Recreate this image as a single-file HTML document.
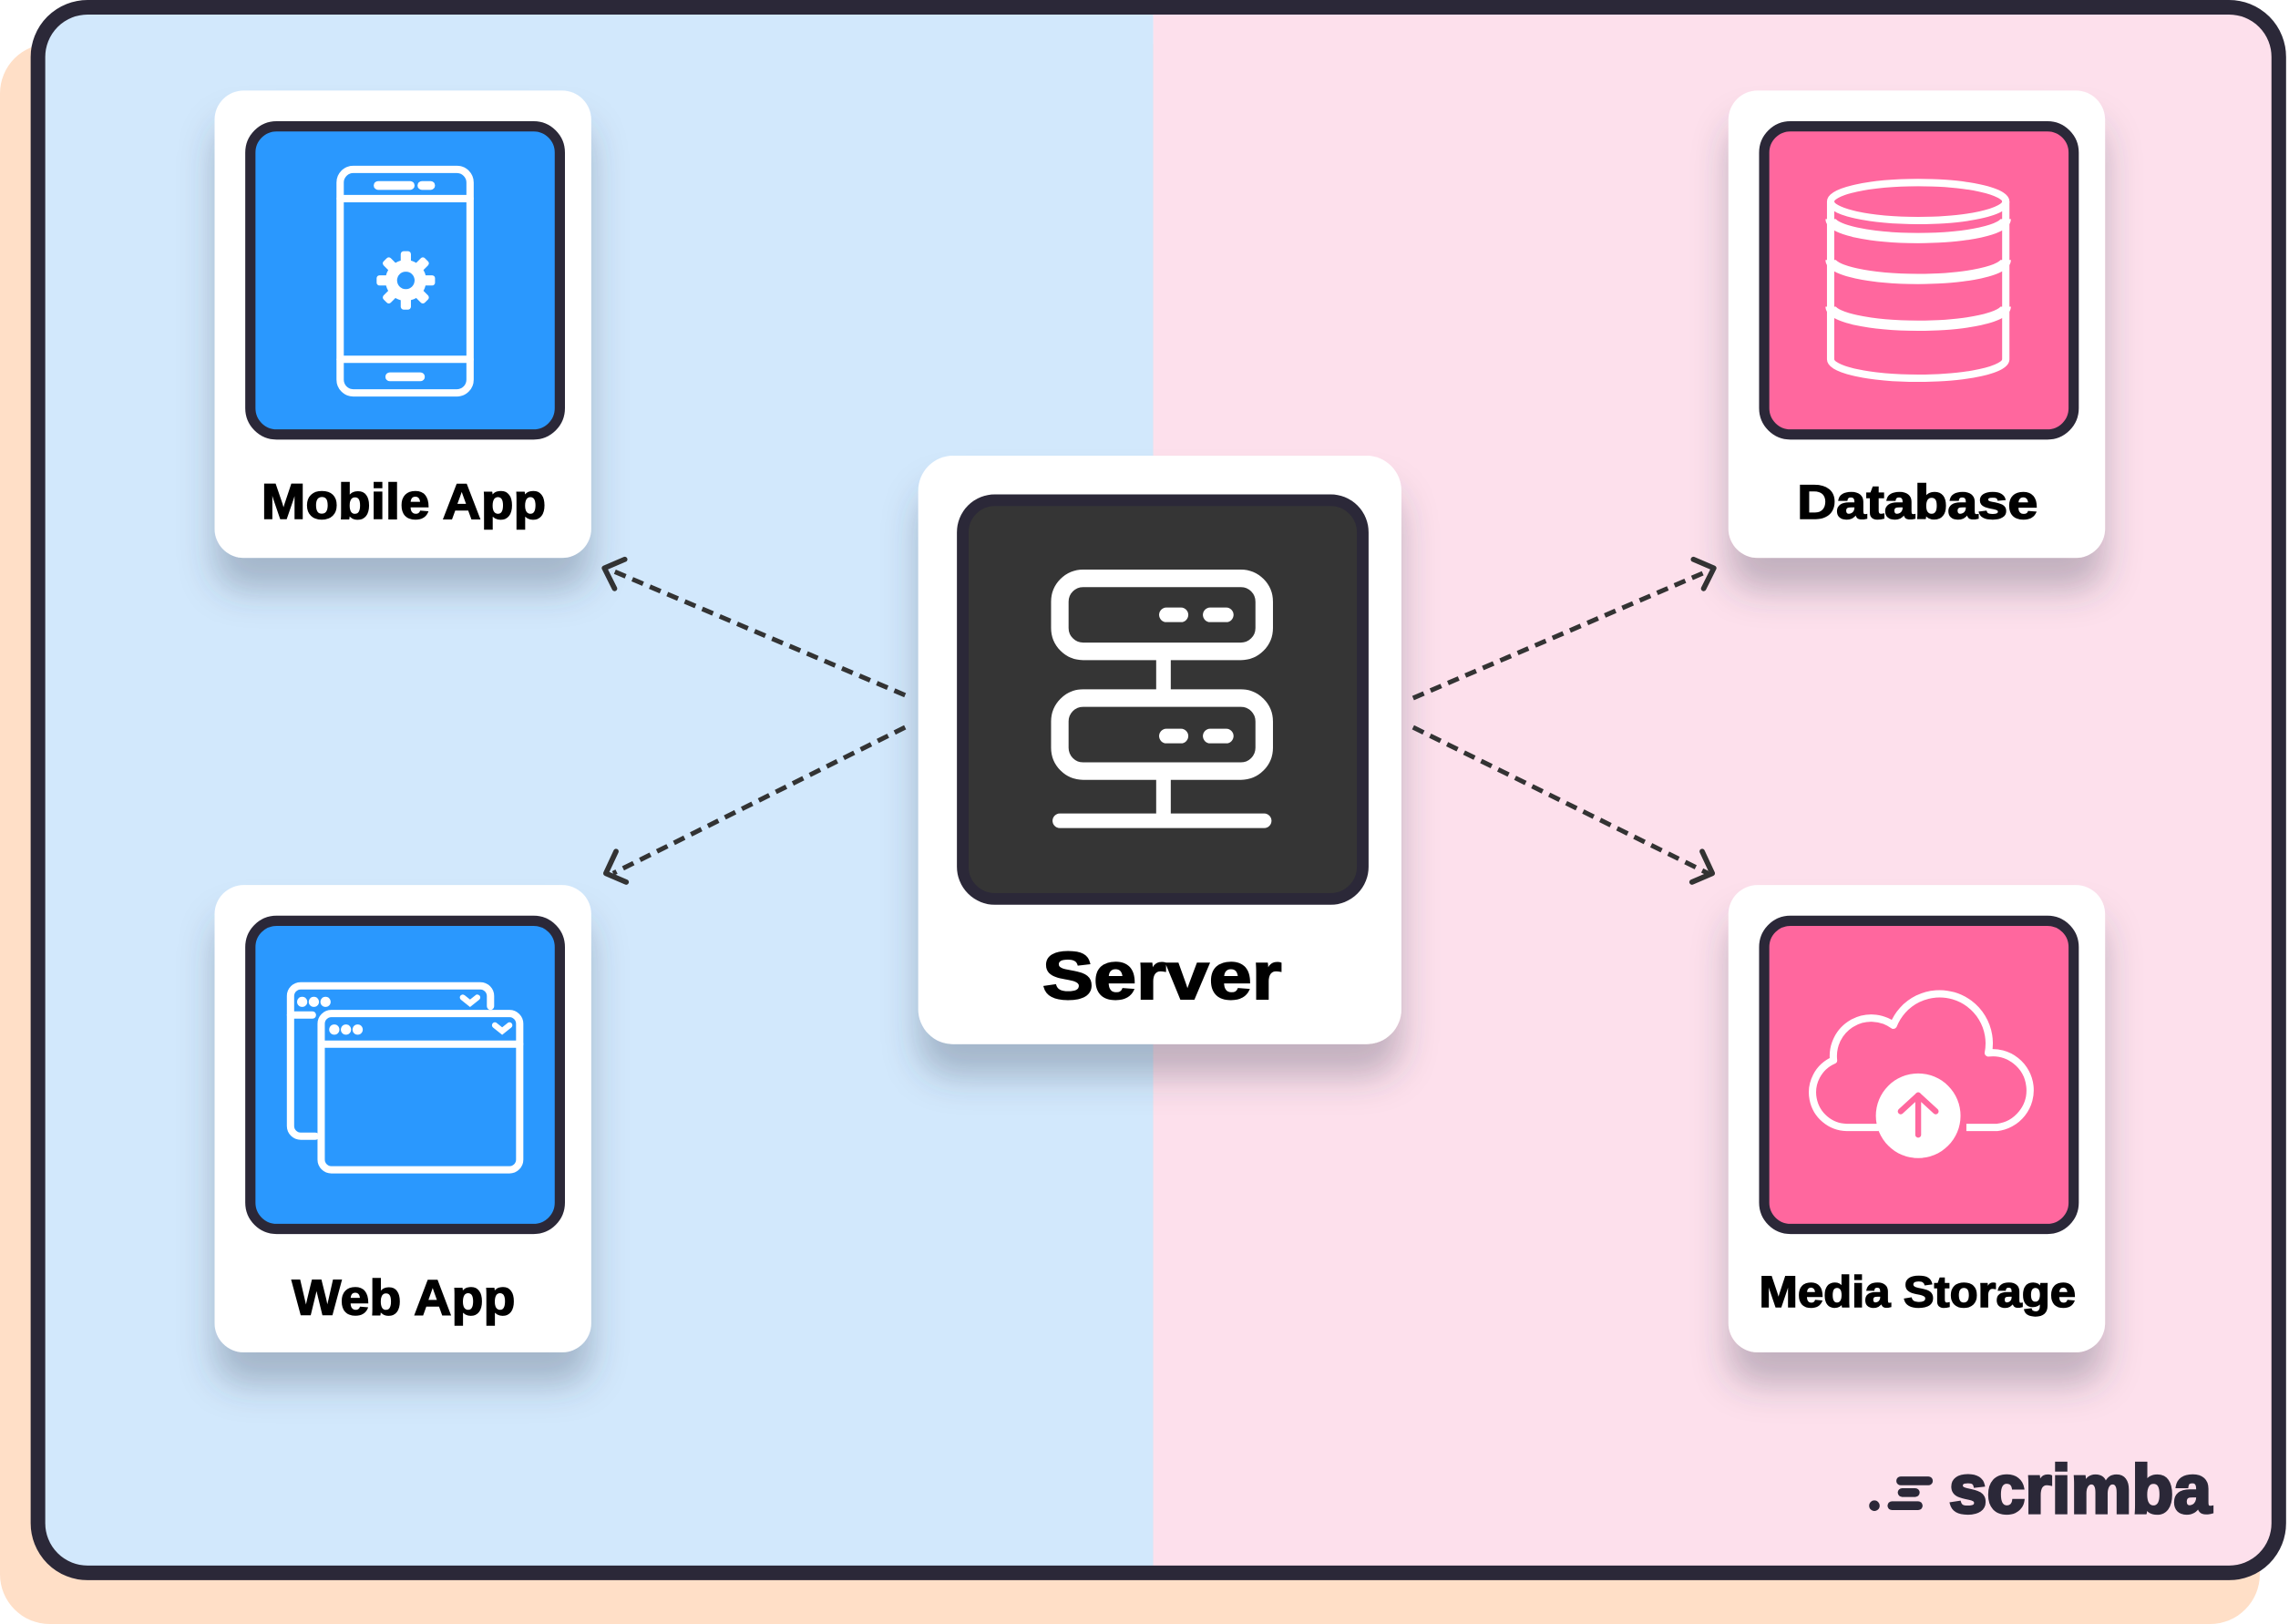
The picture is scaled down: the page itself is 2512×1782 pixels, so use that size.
<!DOCTYPE html>
<html><head><meta charset="utf-8"><style>
html,body{margin:0;padding:0;width:2512px;height:1782px;overflow:hidden;background:#fff}
svg{display:block}
text{font-family:"Liberation Sans",sans-serif;font-weight:bold}
</style></head><body>
<svg width="2512" height="1782" viewBox="0 0 1568 1112" preserveAspectRatio="none" xmlns="http://www.w3.org/2000/svg">
<defs>
<filter id="sh" x="-30%" y="-30%" width="160%" height="170%">
<feDropShadow dx="0" dy="22" stdDeviation="12" flood-color="#3a3f55" flood-opacity="0.3"/>
</filter>
<clipPath id="fc"><rect x="26" y="5" width="1535" height="1072" rx="34"/></clipPath>
</defs>
<rect x="0" y="30" width="1548" height="1082" rx="34" fill="#ffdfc7"/>
<g clip-path="url(#fc)">
<rect x="0" y="0" width="790" height="1112" fill="#d2e8fc"/>
<rect x="790" y="0" width="800" height="1112" fill="#fde0ec"/>
</g>
<rect x="26" y="5" width="1535" height="1072" rx="34" fill="none" stroke="#2b2838" stroke-width="10"/>

<g stroke="#333" stroke-width="3.2" fill="none" stroke-linecap="butt">
<line x1="620" y1="476" x2="420" y2="391" stroke-dasharray="8 5"/>
<line x1="620" y1="498" x2="420" y2="598" stroke-dasharray="8 5"/>
<line x1="968" y1="478" x2="1170" y2="391" stroke-dasharray="8 5"/>
<line x1="968" y1="498" x2="1170" y2="598" stroke-dasharray="8 5"/>
</g>
<g stroke="#333" stroke-width="3.6" fill="none" stroke-linecap="round" stroke-linejoin="round">
<polyline points="428,383 414,389 421,403"/>
<polyline points="422,583 415,598 429,604"/>
<polyline points="1160,383 1174,389 1167,403"/>
<polyline points="1166,583 1173,598 1159,604"/>
</g>

<g filter="url(#sh)" fill="#fff">
<rect x="147" y="62" width="258" height="320" rx="20"/>
<rect x="147" y="606" width="258" height="320" rx="20"/>
<rect x="1184" y="62" width="258" height="320" rx="20"/>
<rect x="1184" y="606" width="258" height="320" rx="20"/>
<rect x="629" y="312" width="331" height="403" rx="24"/>
</g>
<g stroke="#2b2838" stroke-width="7">
<rect x="171.5" y="86.5" width="212" height="211" rx="18" fill="#2a98fe"/>
<rect x="171.5" y="630.5" width="212" height="211" rx="18" fill="#2a98fe"/>
<rect x="1208.5" y="86.5" width="212" height="211" rx="18" fill="#ff679e"/>
<rect x="1208.5" y="630.5" width="212" height="211" rx="18" fill="#ff679e"/>
<rect x="659.5" y="342.5" width="274" height="273" rx="22" fill="#353535" stroke-width="8"/>
</g>

<g fill="#000" stroke="#000" stroke-width="0.9">
<text x="179" y="355" font-size="34" textLength="195" lengthAdjust="spacingAndGlyphs">Mobile App</text>
<text x="200" y="900" font-size="34" textLength="153" lengthAdjust="spacingAndGlyphs">Web App</text>
<text x="1231" y="355" font-size="33" textLength="165" lengthAdjust="spacingAndGlyphs">Database</text>
<text x="1205" y="895" font-size="30" textLength="217" lengthAdjust="spacingAndGlyphs">Media Storage</text>
<text x="714" y="684" font-size="46" textLength="164" lengthAdjust="spacingAndGlyphs" stroke-width="1.2">Server</text>
</g>

<g stroke="#fff" stroke-width="5" fill="none" stroke-linecap="round">
<rect x="233" y="116" width="89" height="153" rx="9"/>
<line x1="233" y1="136" x2="322" y2="136"/>
<line x1="233" y1="246" x2="322" y2="246"/>
<line x1="259" y1="127" x2="281" y2="127" stroke-width="6"/>
<line x1="289" y1="127" x2="295" y2="127" stroke-width="6"/>
<line x1="267" y1="258" x2="288" y2="258" stroke-width="6"/>
</g>
<g transform="translate(278,192)">
<circle r="14" fill="#fff"/>
<g fill="#fff">
<rect x="-3.5" y="-20" width="7" height="40" rx="2"/>
<rect x="-3.5" y="-20" width="7" height="40" rx="2" transform="rotate(45)"/>
<rect x="-3.5" y="-20" width="7" height="40" rx="2" transform="rotate(90)"/>
<rect x="-3.5" y="-20" width="7" height="40" rx="2" transform="rotate(135)"/>
</g>
<circle r="6" fill="#2a98fe"/>
</g>

<g stroke="#fff" stroke-width="5" fill="none" stroke-linecap="round">
<path d="M216,778 H206 A7,7 0 0 1 199,771 V682 A7,7 0 0 1 206,675 H329 A7,7 0 0 1 336,682 V689"/>
<line x1="199" y1="695" x2="214" y2="695"/>
<rect x="220" y="694" width="136" height="107" rx="7"/>
<line x1="220" y1="715" x2="356" y2="715"/>
</g>
<g fill="#fff">
<circle cx="207" cy="686" r="3.5"/><circle cx="215" cy="686" r="3.5"/><circle cx="223" cy="686" r="3.5"/>
<circle cx="229" cy="705" r="3.5"/><circle cx="237" cy="705" r="3.5"/><circle cx="245" cy="705" r="3.5"/>
<path d="M317,683 l5,4 5,-4" stroke="#fff" stroke-width="4" stroke-linecap="round" fill="none"/>
<path d="M339,702 l5,4 5,-4" stroke="#fff" stroke-width="4" stroke-linecap="round" fill="none"/>
</g>

<g stroke="#fff" stroke-width="5" fill="none">
<ellipse cx="1314" cy="138" rx="60" ry="13"/>
<path d="M1254,138 V246 A60,13 0 0 0 1374,246 V138"/>
<path d="M1254,150 A60,13 0 0 0 1374,150" stroke-width="7"/>
<path d="M1254,178 A60,13 0 0 0 1374,178" stroke-width="7"/>
<path d="M1254,210 A60,13 0 0 0 1374,210" stroke-width="7"/>
</g>

<g stroke="#fff" stroke-width="5" fill="none" stroke-linejoin="round">
<path d="M1287,772 H1265 A24,24 0 0 1 1256,726 A26,26 0 0 1 1297,702 A34,34 0 0 1 1362,721 A24,24 0 0 1 1368,772 H1347"/>
</g>
<circle cx="1314" cy="764" r="29" fill="#fff"/>
<g stroke="#ff679e" stroke-width="4" fill="none" stroke-linecap="round" stroke-linejoin="round">
<line x1="1314" y1="750" x2="1314" y2="777"/>
<polyline points="1302,761 1314,750 1326,761"/>
</g>

<g stroke="#fff" fill="none" stroke-linecap="round">
<rect x="726" y="396" width="140" height="50" rx="16" stroke-width="12"/>
<rect x="726" y="478" width="140" height="50" rx="16" stroke-width="12"/>
<line x1="797" y1="446" x2="797" y2="478" stroke-width="10" stroke-linecap="butt"/>
<line x1="797" y1="528" x2="797" y2="562" stroke-width="10" stroke-linecap="butt"/>
<line x1="726" y1="562" x2="866" y2="562" stroke-width="10"/>
<line x1="799" y1="421" x2="809" y2="421" stroke-width="10"/>
<line x1="829" y1="421" x2="840" y2="421" stroke-width="10"/>
<line x1="799" y1="504" x2="809" y2="504" stroke-width="10"/>
<line x1="829" y1="504" x2="840" y2="504" stroke-width="10"/>
</g>

<circle cx="1284" cy="1031" r="3.6" fill="#2b2838"/>
<g stroke="#2b2838" stroke-width="6" stroke-linecap="round">
<line x1="1302" y1="1014" x2="1321" y2="1014"/>
<line x1="1303" y1="1022" x2="1312" y2="1022"/>
<line x1="1296" y1="1031" x2="1314" y2="1031"/>
</g>
<text x="1335" y="1036" font-size="47" fill="#2b2838" stroke="#2b2838" stroke-width="2" textLength="180" lengthAdjust="spacingAndGlyphs">scrimba</text>
</svg>
</body></html>
